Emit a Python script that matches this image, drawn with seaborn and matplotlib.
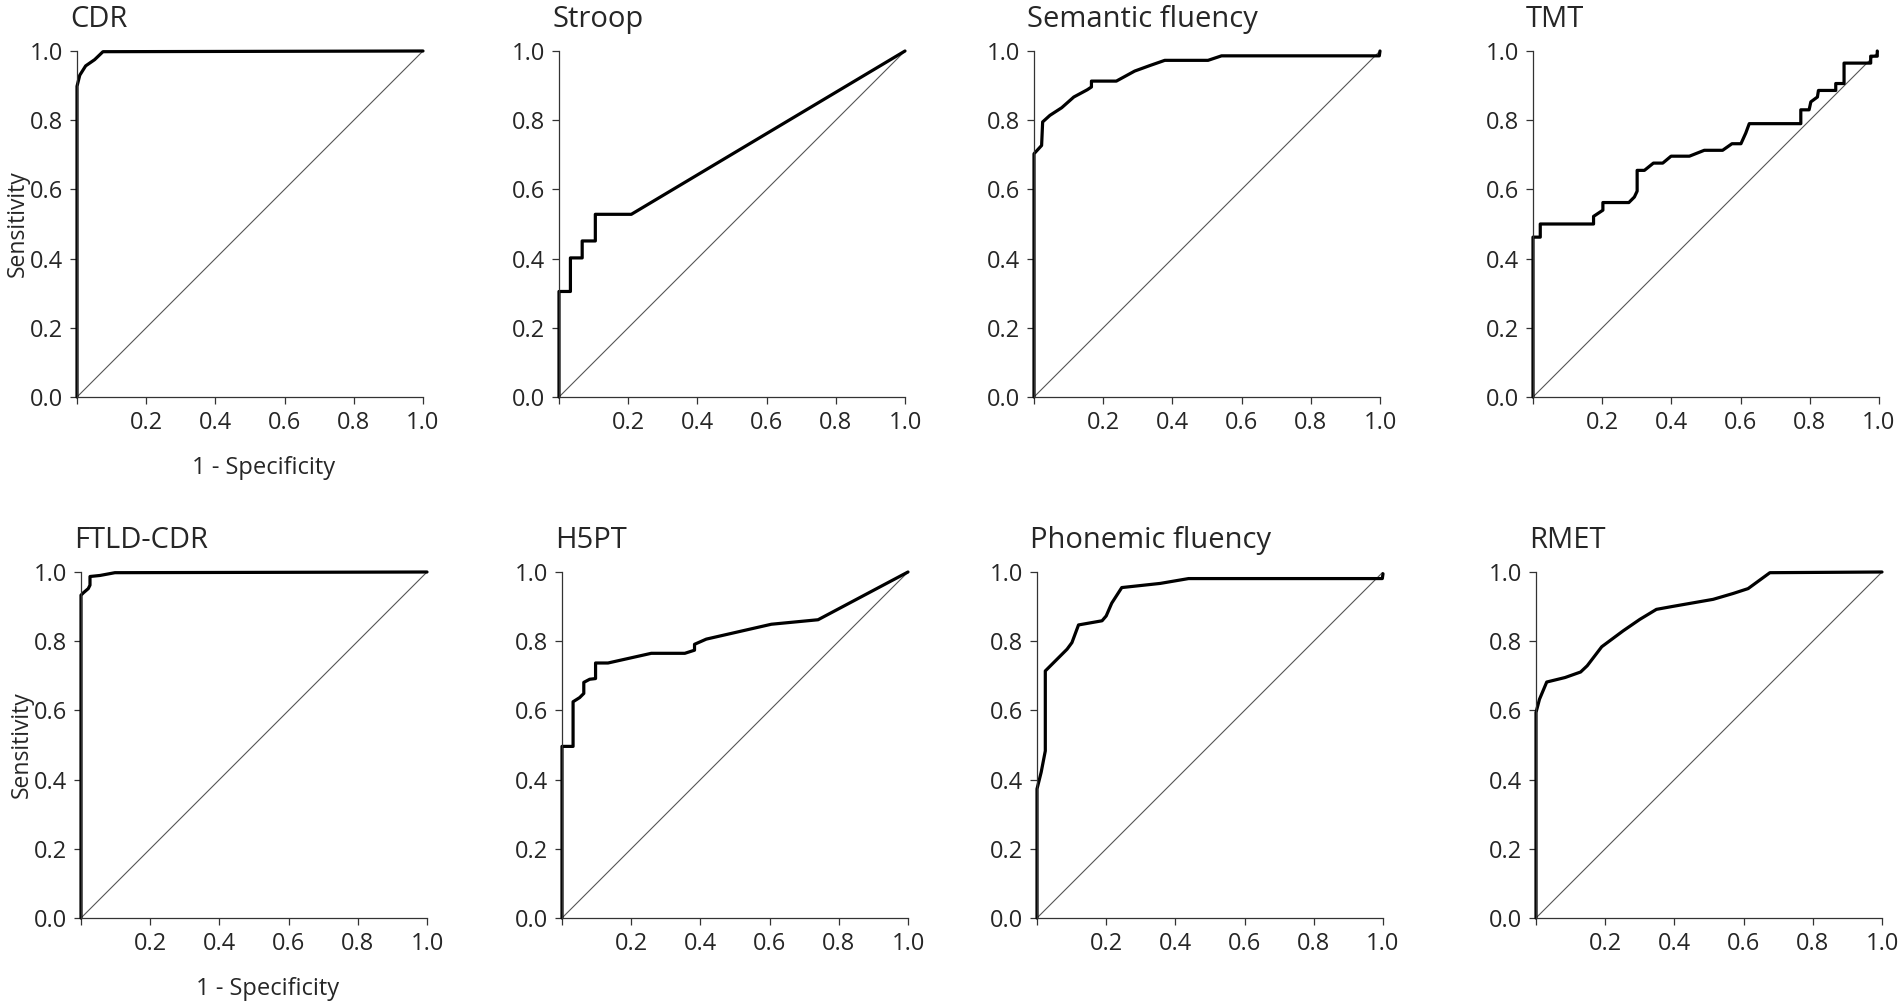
import matplotlib
matplotlib.use("Agg")
import matplotlib.pyplot as plt
import seaborn as sns
import pandas as pd

# ROC curve points (1 - specificity, sensitivity)
cdr_fpr = [0.0, 0.0, 0.008, 0.025, 0.051, 0.075, 1.0]
cdr_tpr = [0.0, 0.898, 0.93, 0.957, 0.975, 0.998, 1.0]

stroop_fpr = [0.0, 0.0, 0.033, 0.033, 0.067, 0.067, 0.105, 0.105, 0.209, 1.0]
stroop_tpr = [0.0, 0.305, 0.305, 0.402, 0.402, 0.451, 0.451, 0.528, 0.528, 1.0]

semantic_fpr = [0.0, 0.0, 0.022, 0.025, 0.046, 0.08, 0.115, 0.154, 0.166, 0.166,
                0.238, 0.291, 0.335, 0.378, 0.503, 0.542, 0.998, 1.0]
semantic_tpr = [0.0, 0.703, 0.727, 0.795, 0.814, 0.836, 0.867, 0.888, 0.896, 0.913,
                0.913, 0.942, 0.958, 0.973, 0.973, 0.986, 0.986, 1.0]

tmt_fpr = [0.0, 0.0, 0.021, 0.021, 0.175, 0.175, 0.202, 0.202, 0.277, 0.293, 0.301,
           0.301, 0.322, 0.348, 0.375, 0.399, 0.452, 0.495, 0.548, 0.575, 0.601,
           0.615, 0.625, 0.774, 0.774, 0.798, 0.803, 0.822, 0.825, 0.875, 0.875,
           0.899, 0.899, 0.976, 0.976, 0.995, 0.995]
tmt_tpr = [0.0, 0.462, 0.462, 0.50, 0.50, 0.522, 0.54, 0.562, 0.562, 0.578, 0.595,
           0.655, 0.655, 0.676, 0.676, 0.696, 0.696, 0.713, 0.713, 0.732, 0.732,
           0.763, 0.79, 0.79, 0.83, 0.83, 0.853, 0.867, 0.886, 0.886, 0.906,
           0.906, 0.965, 0.965, 0.985, 0.985, 1.0]

ftld_fpr = [0.0, 0.0, 0.007, 0.021, 0.026, 0.026, 0.055, 0.098, 1.0]
ftld_tpr = [0.0, 0.933, 0.94, 0.952, 0.962, 0.987, 0.99, 0.998, 1.0]

h5pt_fpr = [0.0, 0.0, 0.032, 0.032, 0.051, 0.063, 0.063, 0.08, 0.097, 0.097, 0.133,
            0.258, 0.355, 0.383, 0.383, 0.417, 0.605, 0.74, 1.0]
h5pt_tpr = [0.0, 0.496, 0.496, 0.625, 0.637, 0.649, 0.681, 0.69, 0.692, 0.737, 0.737,
            0.765, 0.765, 0.774, 0.791, 0.806, 0.849, 0.862, 1.0]

phonemic_fpr = [0.0, 0.0, 0.012, 0.024, 0.024, 0.053, 0.087, 0.101, 0.12, 0.188, 0.2,
                0.216, 0.245, 0.356, 0.438, 0.998, 1.0]
phonemic_tpr = [0.0, 0.373, 0.421, 0.483, 0.714, 0.743, 0.777, 0.796, 0.847, 0.859, 0.873,
                0.91, 0.955, 0.967, 0.981, 0.981, 0.995]

rmet_fpr = [0.0, 0.0, 0.01, 0.031, 0.084, 0.129, 0.148, 0.19, 0.252, 0.30, 0.348,
            0.392, 0.512, 0.57, 0.613, 0.676, 1.0]
rmet_tpr = [0.0, 0.594, 0.632, 0.682, 0.695, 0.711, 0.729, 0.784, 0.83, 0.863, 0.892,
            0.90, 0.921, 0.938, 0.952, 0.998, 1.0]

chance_line = [0.0, 1.0]

titles = ["CDR", "Stroop", "Semantic fluency", "TMT",
          "FTLD-CDR", "H5PT", "Phonemic fluency", "RMET"]
curves = [(cdr_fpr, cdr_tpr), (stroop_fpr, stroop_tpr),
          (semantic_fpr, semantic_tpr), (tmt_fpr, tmt_tpr),
          (ftld_fpr, ftld_tpr), (h5pt_fpr, h5pt_tpr),
          (phonemic_fpr, phonemic_tpr), (rmet_fpr, rmet_tpr)]

x_ticks = [0.0, 0.2, 0.4, 0.6, 0.8, 1.0]
x_tick_labels = ["", "0.2", "0.4", "0.6", "0.8", "1.0"]
y_ticks = [0.0, 0.2, 0.4, 0.6, 0.8, 1.0]
y_tick_labels = ["0.0", "0.2", "0.4", "0.6", "0.8", "1.0"]

sns.set_style("ticks")
plt.rcParams['font.family'] = ['Open Sans', 'DejaVu Sans']

fig = plt.figure(figsize=(19, 10.06), dpi=100)

# axes placement in pixels (left edge), rows share height
col_left = [[77, 559, 1034, 1533], [81, 562, 1037, 1536]]
row_top = [51, 572]
size = 346

for i, (title, (fpr, tpr)) in enumerate(zip(titles, curves)):
    r, c = divmod(i, 4)
    left = col_left[r][c] / 1900
    bottom = 1 - (row_top[r] + size) / 1006
    ax = fig.add_axes([left, bottom, size / 1900, size / 1006])

    df = pd.DataFrame({"fpr": fpr, "tpr": tpr})
    sns.lineplot(x=chance_line, y=chance_line, ax=ax, color="#555555", lw=0.8)
    sns.lineplot(data=df, x="fpr", y="tpr", ax=ax, sort=False, estimator=None,
                 color="black", lw=2.3, clip_on=False)

    ax.set_xlim(0, 1)
    ax.set_ylim(0, 1)
    ax.set_xticks(x_ticks)
    ax.set_xticklabels(x_tick_labels)
    ax.set_yticks(y_ticks)
    ax.set_yticklabels(y_tick_labels)
    ax.tick_params(labelsize=17, length=5, width=0.9, color="#333333", pad=5)
    for s in ["left", "bottom"]:
        ax.spines[s].set_linewidth(0.9)
        ax.spines[s].set_color("#333333")
    sns.despine(ax=ax)

    ax.text(-0.02, 1.07, title, transform=ax.transAxes, fontsize=21,
            ha="left", va="baseline")

    if c == 0:
        ax.set_ylabel("Sensitivity", fontsize=16.5)
        ax.yaxis.set_label_coords(-0.135, 0.5)
        ax.set_xlabel("1 - Specificity", fontsize=17)
        ax.xaxis.set_label_coords(0.54, -0.17)
    else:
        ax.set_ylabel("")
        ax.set_xlabel("")

fig.savefig("out.png", dpi=100)
